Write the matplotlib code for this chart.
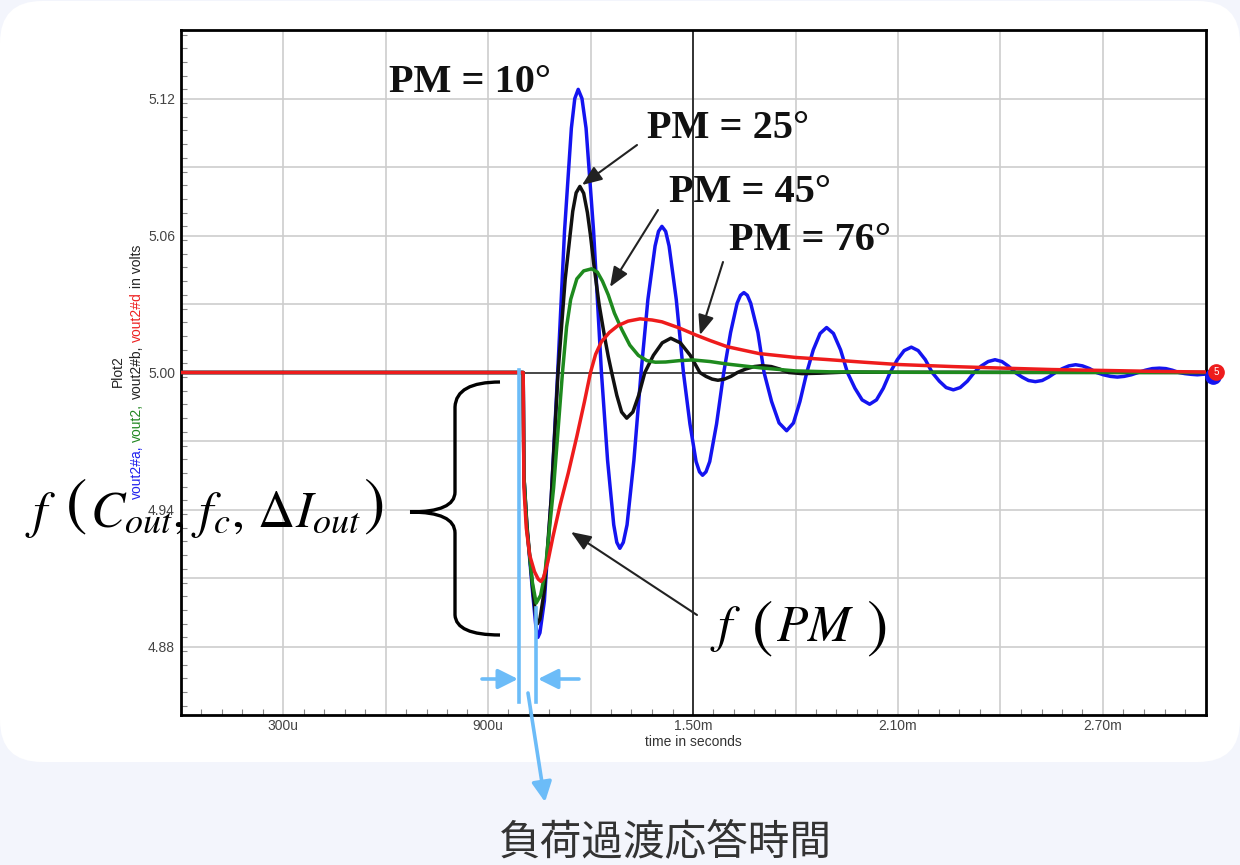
import matplotlib.pyplot as plt
import matplotlib.transforms as mtransforms
from matplotlib.patches import FancyBboxPatch, PathPatch
from matplotlib.path import Path
from matplotlib.ticker import MultipleLocator

plt.rcParams['mathtext.fontset'] = 'stix'

W, H = 1240, 865

# time in ms, output voltage in V
t_blue = [0.000, 1.000, 1.003, 1.005, 1.014, 1.031, 1.040, 1.046, 1.052, 1.065,
          1.085, 1.104, 1.124, 1.144, 1.154, 1.164, 1.175, 1.187, 1.209, 1.232,
          1.250, 1.268, 1.277, 1.286, 1.296, 1.307, 1.327, 1.348, 1.368, 1.389,
          1.399, 1.409, 1.420, 1.430, 1.451, 1.472, 1.491, 1.509, 1.519, 1.528,
          1.538, 1.549, 1.569, 1.590, 1.610, 1.629, 1.639, 1.649, 1.659, 1.669,
          1.690, 1.708, 1.730, 1.752, 1.774, 1.794, 1.813, 1.833, 1.852, 1.872,
          1.891, 1.911, 1.932, 1.952, 1.974, 1.995, 2.017, 2.037, 2.057, 2.077,
          2.098, 2.118, 2.139, 2.159, 2.180, 2.200, 2.221, 2.241, 2.262, 2.282,
          2.303, 2.323, 2.343, 2.364, 2.384, 2.404, 2.423, 2.443, 2.463, 2.482,
          2.502, 2.522, 2.541, 2.561, 2.581, 2.600, 2.620, 2.640, 2.661, 2.681,
          2.701, 2.722, 2.742, 2.762, 2.783, 2.803, 2.824, 2.844, 2.865, 2.884,
          2.903, 2.922, 2.940, 2.958, 2.976, 3.000]
v_blue = [5.000, 5.000, 5.000, 4.955, 4.932, 4.903, 4.889, 4.884, 4.886, 4.900,
          4.945, 5.000, 5.062, 5.107, 5.120, 5.124, 5.120, 5.107, 5.062, 5.000,
          4.9615, 4.9333, 4.9256, 4.923, 4.9256, 4.9333, 4.9615, 5.000, 5.032, 5.0554,
          5.0618, 5.064, 5.0618, 5.0554, 5.032, 5.000, 4.9775, 4.961, 4.9565, 4.955,
          4.9565, 4.961, 4.9775, 5.000, 5.0175, 5.0303, 5.0338, 5.035, 5.0338, 5.0303,
          5.0175, 5.000, 4.9873, 4.9779, 4.9745, 4.9779, 4.9873, 5.000, 5.0099, 5.0171,
          5.0197, 5.0171, 5.0099, 5.000, 4.9931, 4.988, 4.9861, 4.988, 4.9931, 5.000,
          5.0056, 5.0096, 5.0111, 5.0096, 5.0056, 5.000, 4.9962, 4.9934, 4.9924, 4.9934,
          4.9962, 5.000, 5.0028, 5.0048, 5.0056, 5.0048, 5.0028, 5.000, 4.998, 4.9965,
          4.996, 4.9965, 4.998, 5.000, 5.0017, 5.0029, 5.0034, 5.0029, 5.0017, 5.000,
          4.999, 4.9983, 4.998, 4.9983, 4.999, 5.000, 5.0010, 5.0017, 5.0019, 5.0017,
          5.0010, 5.000, 4.9995, 4.9992, 4.999, 4.9993]

t_black = [0.000, 1.000, 1.003, 1.005, 1.014, 1.031, 1.040, 1.045, 1.052, 1.065,
           1.085, 1.105, 1.126, 1.148, 1.158, 1.169, 1.180, 1.191, 1.200, 1.210,
           1.225, 1.242, 1.252, 1.262, 1.277, 1.291, 1.306, 1.324, 1.341, 1.359,
           1.384, 1.410, 1.435, 1.463, 1.492, 1.520, 1.538, 1.556, 1.573, 1.592,
           1.611, 1.630, 1.654, 1.679, 1.703, 1.729, 1.754, 1.780, 1.820, 1.870,
           1.950, 2.100, 3.000]
v_black = [5.000, 5.000, 5.000, 4.955, 4.933, 4.905, 4.893, 4.890, 4.892, 4.9047,
           4.945, 5.000, 5.041, 5.0706, 5.0787, 5.0815, 5.0785, 5.070, 5.060, 5.047,
           5.030, 5.015, 5.007, 5.000, 4.990, 4.9827, 4.980, 4.9827, 4.990, 5.000,
           5.0075, 5.013, 5.015, 5.013, 5.0075, 5.000, 4.9983, 4.9971, 4.9966, 4.9971,
           4.9983, 5.000, 5.0015, 5.0026, 5.003, 5.0026, 5.0015, 5.000, 4.9995, 4.9997,
           5.0002, 5.0001, 5.000]

t_green = [0.000, 1.000, 1.003, 1.005, 1.014, 1.030, 1.041, 1.054, 1.067, 1.092,
           1.118, 1.130, 1.142, 1.160, 1.180, 1.203, 1.220, 1.235, 1.252, 1.270,
           1.291, 1.315, 1.340, 1.365, 1.390, 1.420, 1.460, 1.500, 1.550, 1.600,
           1.700, 1.800, 1.900, 2.100, 3.000]
v_green = [5.000, 5.000, 5.000, 4.955, 4.931, 4.908, 4.899, 4.9024, 4.9125, 4.9495,
           5.000, 5.020, 5.032, 5.041, 5.0445, 5.0454, 5.044, 5.040, 5.034, 5.026,
           5.019, 5.012, 5.0075, 5.0052, 5.0045, 5.0046, 5.0052, 5.0055, 5.0048, 5.0037,
           5.002, 5.0007, 5.0003, 5.0001, 5.000]

t_red = [0.000, 1.003, 1.005, 1.012, 1.022, 1.036, 1.047, 1.055, 1.062, 1.075,
         1.090, 1.111, 1.135, 1.160, 1.182, 1.200, 1.215, 1.232, 1.255, 1.280,
         1.310, 1.345, 1.380, 1.409, 1.460, 1.507, 1.550, 1.600, 1.693, 1.800,
         1.890, 2.000, 2.100, 2.260, 2.410, 2.550, 2.700, 2.850, 3.000]
v_red = [5.000, 5.000, 4.950, 4.932, 4.920, 4.9128, 4.9095, 4.9085, 4.910, 4.917,
         4.928, 4.942, 4.956, 4.972, 4.987, 5.000, 5.008, 5.0135, 5.0175, 5.0205,
         5.0225, 5.0235, 5.023, 5.0222, 5.0195, 5.0165, 5.014, 5.0113, 5.0083, 5.0066,
         5.0057, 5.0045, 5.0035, 5.0026, 5.0019, 5.0013, 5.0009, 5.0005, 5.0002]

x_grid = [0.3, 0.6, 0.9, 1.2, 1.5, 1.8, 2.1, 2.4, 2.7]
x_labels = ['300u', '', '900u', '', '1.50m', '', '2.10m', '', '2.70m']
y_grid = [4.88, 4.91, 4.94, 4.97, 5.00, 5.03, 5.06, 5.09, 5.12]
y_labels = ['4.88', '', '4.94', '', '5.00', '', '5.06', '', '5.12']

pm_labels = ['PM = 10°', 'PM = 25°', 'PM = 45°', 'PM = 76°']

BG = '#f3f5fc'
LIGHT_BLUE = '#6cbcf8'
PIX = mtransforms.IdentityTransform()

fig = plt.figure(figsize=(W / 100, H / 100), dpi=100, facecolor=BG)

# white rounded panel behind the plot
panel = FancyBboxPatch((0, H - 762), W, 761, boxstyle='round,pad=0,rounding_size=42',
                       transform=PIX, facecolor='white', edgecolor='none', zorder=-5)
fig.add_artist(panel)

ax = fig.add_axes([180.5 / W, 1 - 715 / H, 1025 / W, 685 / H])
ax.set_facecolor('white')
ax.set_xlim(0, 3.0)
ax.set_ylim(4.85, 5.15)

ax.set_xticks(x_grid)
ax.set_xticklabels(x_labels)
ax.set_yticks(y_grid)
ax.set_yticklabels(y_labels)
ax.xaxis.set_minor_locator(MultipleLocator(0.06))
ax.yaxis.set_minor_locator(MultipleLocator(0.006))
ax.tick_params(which='both', direction='in', color='#888888', labelcolor='#444444',
               labelsize=10, width=0.8)
ax.tick_params(which='major', length=0, pad=3)
ax.tick_params(axis='y', which='major', pad=4)
ax.tick_params(which='minor', length=4)
for lab in ax.get_xticklabels() + ax.get_yticklabels():
    lab.set_fontfamily('Liberation Sans')
ax.grid(True, which='major', color='#cdcdcd', lw=1.2)
ax.set_axisbelow(True)
for sp in ax.spines.values():
    sp.set_color('black')
    sp.set_linewidth(2)

ax.set_xlabel('time in seconds', fontfamily='Liberation Sans', fontsize=10,
              color='#333333', labelpad=1)

# cursor crosshair
ax.axvline(1.5, color='#333333', lw=1.4, zorder=1.5)
ax.axhline(5.0, color='#222222', lw=1.1, zorder=1.5)

ax.plot(t_blue, v_blue, color='#1414f0', lw=2.5, zorder=3)
ax.plot(t_black, v_black, color='#111111', lw=2.5, zorder=4)
ax.plot(t_green, v_green, color='#1e8a1e', lw=2.5, zorder=5)
ax.plot(t_red, v_red, color='#ee1c1c', lw=2.5, zorder=6)

# cursor markers on the right edge
ax.plot([3.022], [4.9985], marker='o', ms=11, color='#1414f0', clip_on=False, zorder=7)
ax.plot([3.03], [5.0003], marker='o', ms=11, color='#ee1c1c', clip_on=False, zorder=8)
ax.text(3.03, 5.0003, '5', color='white', fontsize=7, ha='center', va='center',
        fontfamily='Liberation Sans', zorder=9, clip_on=False)

# rotated multi-coloured y label
fig.text(118 / W, 1 - 371 / H, 'Plot2', rotation=90, ha='center', va='center',
         fontsize=10, fontfamily='Liberation Sans', color='#222222')
pieces = [('vout2#a,', '#2222ee'), ('vout2,', '#228822'), ('vout2#b,', '#222222'),
          ('vout2#d', '#ee2222'), ('in volts', '#222222')]
texts = [fig.text(137 / W, 0.5, s, rotation=90, ha='center', va='bottom', fontsize=10,
                  fontfamily='Liberation Sans', color=c) for s, c in pieces]
renderer = fig.canvas.get_renderer()
gap = 4
sizes = [t.get_window_extent(renderer).height for t in texts]
total = sum(sizes) + gap * (len(sizes) - 1)
y0 = (H - 372) - total / 2
for t, s in zip(texts, sizes):
    t.set_position((137 / W, y0 / H))
    y0 += s + gap

# PM labels and arrows
serif = dict(fontfamily='Liberation Serif', fontweight='bold', fontsize=29,
             ha='left', va='center', color='#111111')
pm_pos = [(389, 83), (647, 128), (669, 193), (729, 241)]
for lab, (x, y) in zip(pm_labels, pm_pos):
    fig.text(x / W, 1 - y / H, lab, **serif)

arrow_kw = dict(arrowstyle='-|>,head_length=0.55,head_width=0.22', color='#222222',
                lw=1.5, mutation_scale=22, shrinkA=0, shrinkB=0)
arrows = [((637, 145), (582, 185)), ((658, 210), (610, 287)),
          ((723, 262), (700, 335)), ((697, 615), (571, 532))]
for (x0, y0_), (x1, y1) in arrows:
    ax.annotate('', xy=(x1, H - y1), xycoords='figure pixels',
                xytext=(x0, H - y0_), textcoords='figure pixels', arrowprops=arrow_kw)


# math annotations: f, large parentheses and the argument placed separately
def put(x, y, s, size, va='baseline'):
    fig.text(x / W, 1 - y / H, s, fontsize=size, ha='left', va=va, color='black')


def paren(xc, yc, s, size=46):
    fig.text(xc / W, 1 - yc / H, s, fontsize=size, ha='center', va='center',
             color='black')


put(25, 527, r'$f$', 37)
paren(76, 506, r'$($')
put(90, 527, r'$C_{out},\,f_c,\,\Delta I_{out}$', 37)
paren(373, 506, r'$)$')

put(710, 641, r'$f$', 37)
paren(762, 628, r'$($')
put(776, 641, r'$PM$', 37)
paren(876, 628, r'$)$')

# curly brace
bp = [(500, 382), (456, 382), (455, 407), (455, 492), (455, 512), (410, 512),
      (455, 512), (455, 533), (455, 615), (456, 635), (500, 635)]
codes = [Path.MOVETO, Path.CURVE3, Path.CURVE3, Path.LINETO, Path.CURVE3, Path.CURVE3,
         Path.CURVE3, Path.CURVE3, Path.LINETO, Path.CURVE3, Path.CURVE3]
brace = PathPatch(Path([(x, H - y) for x, y in bp], codes), facecolor='none',
                  edgecolor='black', lw=2.4, transform=PIX)
fig.add_artist(brace)

# response time markers
fig.add_artist(plt.Line2D([519, 519], [H - 370, H - 702], color=LIGHT_BLUE, lw=2.6,
                          transform=PIX))
fig.add_artist(plt.Line2D([536, 536], [H - 608, H - 702], color=LIGHT_BLUE, lw=2.6,
                          transform=PIX))
lb_kw = dict(arrowstyle='-|>,head_length=0.6,head_width=0.3', color=LIGHT_BLUE,
             lw=2.6, mutation_scale=20, shrinkA=0, shrinkB=0)
for (x0, y0_), (x1, y1) in [((482, 679), (518, 679)), ((579, 679), (538, 679)),
                            ((528, 693), (545, 802))]:
    ax.annotate('', xy=(x1, H - y1), xycoords='figure pixels',
                xytext=(x0, H - y0_), textcoords='figure pixels', arrowprops=lb_kw,
                annotation_clip=False)

fig.text(665 / W, 1 - 843 / H, '負荷過渡応答時間', fontfamily='Noto Sans CJK JP',
         fontsize=30, color='#333333', ha='center', va='center')

fig.savefig('out.png', dpi=100, facecolor=BG)
